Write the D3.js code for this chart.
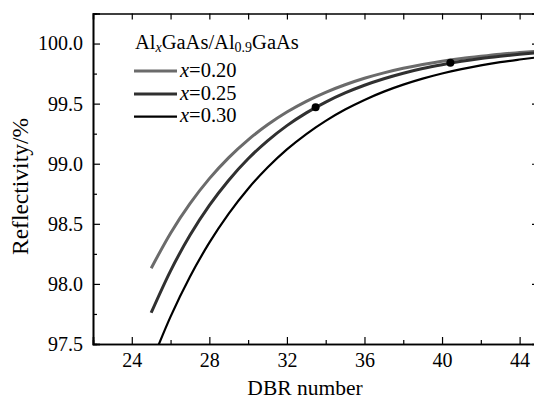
<!DOCTYPE html>
<html><head><meta charset="utf-8">
<script src="https://cdn.jsdelivr.net/npm/d3@7"></script>
<style>
html,body{margin:0;padding:0;background:#fff;}
svg{display:block;}
svg text{font-family:"Liberation Serif","Times New Roman",serif;fill:#000;}
</style></head>
<body><svg id="c" width="534" height="399"></svg>
<script>
const dbr = [25,26,27,28,29,30,31,32,33,34,35,36,37,38,39,40,41,42,43,44,45];
const r020 = [98.130,98.422,98.668,98.876,99.051,99.199,99.324,99.430,99.519,99.594,99.657,99.711,99.756,99.794,99.826,99.853,99.876,99.895,99.912,99.925,99.937];
const r025 = [97.760,98.109,98.404,98.653,98.863,99.041,99.190,99.317,99.423,99.513,99.589,99.653,99.707,99.753,99.792,99.824,99.852,99.875,99.894,99.911,99.925];
const r030 = [97.340,97.728,98.060,98.343,98.585,98.792,98.968,99.119,99.247,99.357,99.451,99.531,99.600,99.658,99.708,99.751,99.787,99.818,99.845,99.867,99.887];
const seriesNames = ["0.20","0.25","0.30"];
const seriesColors = ["#6b6b6b","#303030","#000000"];
const seriesWidths = [3,3,2.2];
const markX = [33.48, 40.43];
const markY = [99.47, 99.84];
const xTicks = [24,28,32,36,40,44];
const yTicks = [97.5,98.0,98.5,99.0,99.5,100.0];

(function(){
const svg = d3.select("#c");
const L=93, R=539, T=13.5, B=344;
const x = d3.scaleLinear().domain([22,45]).range([L,R]);
const y = d3.scaleLinear().domain([97.5,100.25]).range([B,T]);

svg.append("clipPath").attr("id","clip").append("rect")
  .attr("x",L).attr("y",T).attr("width",R-L).attr("height",B-T);

const series = [r020,r025,r030];
const line = d3.line().x(d=>x(d[0])).y(d=>y(d[1])).curve(d3.curveMonotoneX);
series.forEach((s,i)=>{
  svg.append("path").attr("clip-path","url(#clip)")
    .datum(dbr.map((v,j)=>[v,s[j]]))
    .attr("d",line).attr("fill","none")
    .attr("stroke",seriesColors[i]).attr("stroke-width",seriesWidths[i]);
});
svg.selectAll("circle.m").data(markX).enter().append("circle")
  .attr("cx",(d)=>x(d)).attr("cy",(d,i)=>y(markY[i])).attr("r",4).attr("fill","#000");

const gBottom = svg.append("g").attr("transform",`translate(0,${B})`)
  .call(d3.axisBottom(x).tickValues(xTicks).tickSize(-7).tickPadding(8.5).tickFormat(d3.format("d")));
const gBottomMinor = svg.append("g").attr("transform",`translate(0,${B})`)
  .call(d3.axisBottom(x).tickValues([26,30,34,38,42]).tickSize(-4).tickFormat(""));
const gTop = svg.append("g").attr("transform",`translate(0,${T})`)
  .call(d3.axisTop(x).tickValues(d3.range(24,45,2)).tickSize(-6).tickFormat(""));
const gLeft = svg.append("g").attr("transform",`translate(${L},0)`)
  .call(d3.axisLeft(y).tickValues(yTicks).tickSize(-7).tickPadding(10).tickFormat(d3.format(".1f")));
const gLeftMinor = svg.append("g").attr("transform",`translate(${L},0)`)
  .call(d3.axisLeft(y).tickValues([97.75,98.25,98.75,99.25,99.75]).tickSize(-4).tickFormat(""));
const gRight = svg.append("g").attr("transform",`translate(${R},0)`)
  .call(d3.axisRight(y).tickValues(yTicks).tickSize(-7).tickFormat(""));
[gBottom,gBottomMinor,gTop,gLeft,gLeftMinor,gRight].forEach(g=>{
  g.attr("font-family",null).attr("font-size",null);
  g.select(".domain").attr("stroke","#000").attr("stroke-width",1.6);
  g.selectAll(".tick line").attr("stroke","#000").attr("stroke-width",1.2);
  g.selectAll("text").style("font-size","20px").attr("fill","#000");
});

svg.append("text").attr("x",305).attr("y",395).attr("text-anchor","middle")
  .style("font-size","21.5px").text("DBR number");
svg.append("text").attr("transform","translate(28,186.5) rotate(-90)").attr("text-anchor","middle")
  .style("font-size","23.5px").text("Reflectivity/%");

const lt = svg.append("text").attr("x",135).attr("y",49.3).style("font-size","20.5px");
lt.append("tspan").text("Al");
lt.append("tspan").style("font-style","italic").style("font-size","14px").attr("dy",3).text("x");
lt.append("tspan").attr("dy",-3).text("GaAs/Al");
lt.append("tspan").style("font-size","14px").attr("dy",3).text("0.9");
lt.append("tspan").attr("dy",-3).text("GaAs");

const legY = [71,94,116.7];
seriesNames.forEach((n,i)=>{
  svg.append("line").attr("x1",134).attr("x2",177).attr("y1",legY[i]).attr("y2",legY[i])
    .attr("stroke",seriesColors[i]).attr("stroke-width",seriesWidths[i]);
  const t = svg.append("text").attr("x",180).attr("y",legY[i]+5.5).style("font-size","20.5px");
  t.append("tspan").style("font-style","italic").text("x");
  t.append("tspan").text("="+n);
});
})();
</script></body></html>
